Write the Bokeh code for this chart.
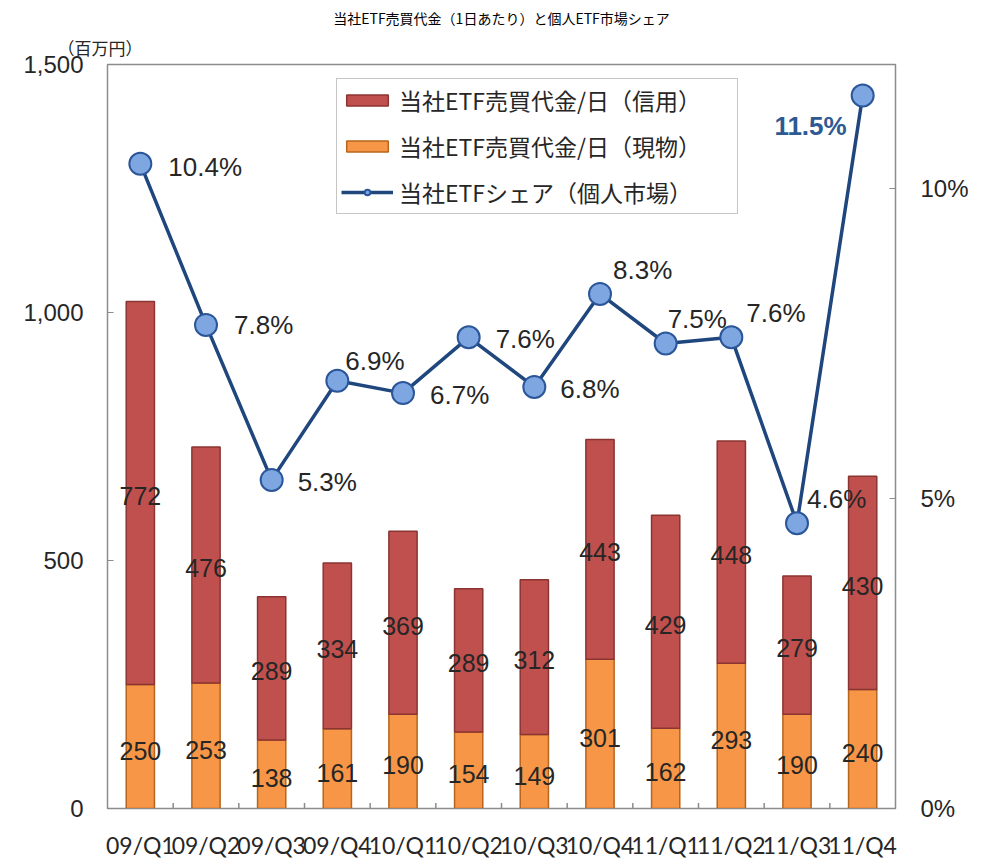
import math
from bokeh.plotting import figure
from bokeh.models import (ColumnDataSource, Range1d, LinearAxis, FactorRange, FixedTicker,
                          NumeralTickFormatter, PrintfTickFormatter, Legend, LegendItem,
                          LabelSet, Title)
from bokeh.transform import dodge
from bokeh.core.properties import value
from bokeh.embed import file_html
from bokeh.resources import INLINE

# ---------------- data ----------------
categories = ["09/Q1", "09/Q2", "09/Q3", "09/Q4", "10/Q1", "10/Q2",
              "10/Q3", "10/Q4", "11/Q1", "11/Q2", "11/Q3", "11/Q4"]
genbutsu = [250, 253, 138, 161, 190, 154, 149, 301, 162, 293, 190, 240]   # 現物
shinyo = [772, 476, 289, 334, 369, 289, 312, 443, 429, 448, 279, 430]     # 信用
share = [10.4, 7.8, 5.3, 6.9, 6.7, 7.6, 6.8, 8.3, 7.5, 7.6, 4.6, 11.5]    # %
left_ticks = [0, 500, 1000, 1500]
right_ticks = [0, 5, 10]

# label placement (pixels, y up) for the share labels
share_dx = [28, 28, 26, 8, 27, 27, 26, 13, 2, 15, 10, -16]
share_dy = [-3, 0, -2, 20, -2, -2, -2, 24, 25, 24, 24, -30]

RED = "#C0504D"
RED_LINE = "#8A3532"
ORANGE = "#F79646"
ORANGE_LINE = "#B5651D"
NAVY = "#1F477E"
MARKER = "#7EA7E2"
GRAY = "#8C8C8C"
TXT = "#262626"

src = ColumnDataSource(dict(
    cat=categories,
    genbutsu=genbutsu,
    shinyo=shinyo,
    g_mid=[g / 2 for g in genbutsu],
    s_mid=[g + s / 2 for g, s in zip(genbutsu, shinyo)],
    g_txt=[str(g) for g in genbutsu],
    s_txt=[str(s) for s in shinyo],
    share=share,
))
src_main = ColumnDataSource(dict(cat=categories[:-1], share=share[:-1],
                                 share_txt=[f"{v}%" for v in share[:-1]],
                                 dx=share_dx[:-1], dy=share_dy[:-1]))
src_last = ColumnDataSource(dict(cat=categories[-1:], share=share[-1:],
                                 share_txt=[f"{v}%" for v in share[-1:]],
                                 dx=share_dx[-1:], dy=share_dy[-1:]))

p = figure(width=985, height=861, title=None,
           x_range=FactorRange(*categories), y_range=Range1d(0, 1500),
           output_backend="svg", toolbar_location=None,
           min_border_left=107, min_border_right=90,
           min_border_top=60, min_border_bottom=49)
p.extra_y_ranges = {"share": Range1d(0, 12)}

p.xgrid.grid_line_color = None
p.ygrid.grid_line_color = None
p.outline_line_color = GRAY
p.outline_line_width = 1.5
p.background_fill_color = "white"
p.border_fill_color = "white"

# left axis
ya = p.yaxis[0]
ya.ticker = FixedTicker(ticks=left_ticks)
ya.formatter = NumeralTickFormatter(format="0,0")
ya.major_tick_in = 6
ya.major_tick_out = 0
ya.minor_tick_line_color = None
ya.axis_line_color = GRAY
ya.major_tick_line_color = GRAY
ya.major_label_text_font = "Liberation Sans"
ya.major_label_text_font_size = "24px"
ya.major_label_text_color = TXT
ya.major_label_standoff = 24

# right axis
ra = LinearAxis(y_range_name="share", ticker=FixedTicker(ticks=right_ticks),
                formatter=PrintfTickFormatter(format="%d%%"))
ra.major_tick_in = 6
ra.major_tick_out = 0
ra.minor_tick_line_color = None
ra.axis_line_color = GRAY
ra.major_tick_line_color = GRAY
ra.major_label_text_font = "Liberation Sans"
ra.major_label_text_font_size = "24px"
ra.major_label_text_color = TXT
ra.major_label_standoff = 25
p.add_layout(ra, "right")

# x axis
xa = p.xaxis[0]
xa.major_tick_line_color = None
xa.axis_line_color = GRAY
xa.major_label_text_font = "Lato"
xa.major_label_text_font_size = "23px"
xa.major_label_text_color = TXT
xa.major_label_standoff = 16

# boundary tick marks on x axis
p.scatter(x=dodge("cat", 0.5, range=p.x_range), y=0,
          source=ColumnDataSource(dict(cat=categories[:-1])),
          marker="dash", angle=math.pi / 2, size=11, line_color=GRAY, line_width=1.5)

# stacked bars
bars = p.vbar_stack(["genbutsu", "shinyo"], x="cat", width=0.43, source=src,
                    fill_color=[ORANGE, RED], line_color=[ORANGE_LINE, RED_LINE], line_width=1.5)

# bar value labels
p.text(x="cat", y="g_mid", text="g_txt", source=src, text_align="center", text_baseline="middle",
       y_offset=4, text_font=value("Liberation Sans"), text_font_size="25px", text_color=TXT)
p.text(x="cat", y="s_mid", text="s_txt", source=src, text_align="center", text_baseline="middle",
       y_offset=3, text_font=value("Liberation Sans"), text_font_size="25px", text_color=TXT)

# share line
line_r = p.line(x="cat", y="share", source=src, y_range_name="share", line_color=NAVY, line_width=3.5)
circ_r = p.scatter(x="cat", y="share", source=src, y_range_name="share", marker="circle", size=22,
                   fill_color=MARKER, line_color="#2B5699", line_width=2)

p.add_layout(LabelSet(x="cat", y="share", text="share_txt", source=src_main, y_range_name="share",
                      x_offset="dx", y_offset="dy", text_align="left", text_baseline="middle",
                      text_font=value("Liberation Sans"), text_font_size="26px", text_color=TXT))
# last label: kept inside the frame (annotations are clipped at the frame edge)
p.add_layout(LabelSet(x="cat", y="share", text="share_txt", source=src_last, y_range_name="share",
                      x_offset="dx", y_offset="dy", text_align="right", text_baseline="middle",
                      text_font=value("Liberation Sans"), text_font_size="26px",
                      text_color="#2E5A93", text_font_style="bold"))

legend = Legend(items=[
    LegendItem(label="当社ETF売買代金/日（信用）", renderers=[bars[1]]),
    LegendItem(label="当社ETF売買代金/日（現物）", renderers=[bars[0]]),
    LegendItem(label="当社ETFシェア（個人市場）", renderers=[line_r, circ_r]),
], location=(229, 594))
legend.label_text_font = "Noto Sans CJK JP"
legend.label_text_font_size = "23px"
legend.label_text_color = TXT
legend.glyph_width = 52
legend.glyph_height = 14
legend.label_height = 28
legend.label_width = 334
legend.label_standoff = 6
legend.spacing = 12
legend.padding = 4
legend.margin = 0
legend.border_line_color = GRAY
legend.border_line_width = 1.5
legend.background_fill_alpha = 1
p.add_layout(legend)

# texts above the plot (first added sits closest to the plot)
p.add_layout(Title(text="（百万円）", align="left", offset=-50, standoff=10,
                   text_font="Noto Sans CJK JP", text_font_size="17px",
                   text_font_style="normal", text_color=TXT), "above")
p.add_layout(Title(text="当社ETF売買代金（1日あたり）と個人ETF市場シェア", align="center", standoff=0,
                   text_font="Noto Sans CJK JP", text_font_size="14px",
                   text_font_style="normal", text_color="#000000"), "above")
# small spacer so the top title is not cut at the page edge
p.add_layout(Title(text=" ", standoff=0, text_font_size="3px"), "above")

with open("out.html", "w", encoding="utf-8") as f:
    f.write(file_html(p, INLINE))
